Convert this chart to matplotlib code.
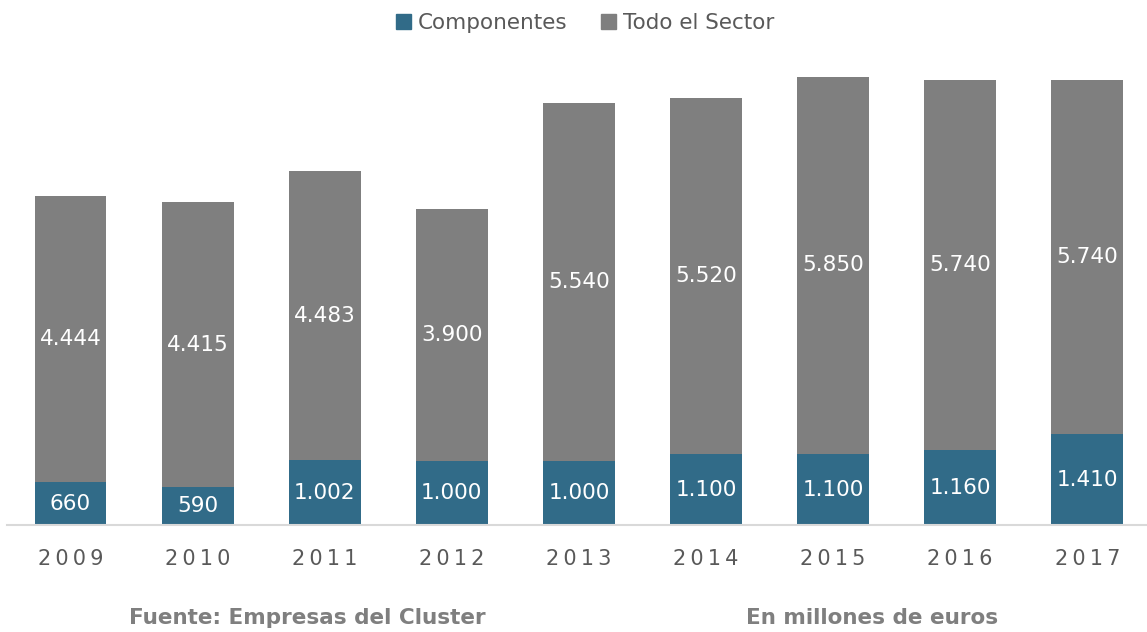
import matplotlib
matplotlib.use("Agg")
import matplotlib.pyplot as plt
from matplotlib.patches import Patch

years = ["2009", "2010", "2011", "2012", "2013", "2014", "2015", "2016", "2017"]
componentes = [660, 590, 1002, 1000, 1000, 1100, 1100, 1160, 1410]
# altura dibujada del tramo gris (2017 se ve más bajo que su etiqueta)
todo_sector = [4444, 4415, 4483, 3900, 5540, 5520, 5850, 5740, 5490]
etiquetas_comp = ["660", "590", "1.002", "1.000", "1.000", "1.100", "1.100", "1.160", "1.410"]
etiquetas_sector = ["4.444", "4.415", "4.483", "3.900", "5.540", "5.520", "5.850", "5.740", "5.740"]

azul = "#316B88"
gris = "#7F7F7F"
texto = "#595959"

plt.rcParams['font.family'] = ['DejaVu Sans']

fig = plt.figure(figsize=(11.47, 6.32), dpi=100)
ax = fig.add_axes([7 / 1147, 107 / 632, 1140 / 1147, 451.5 / 632])

x = list(range(len(years)))
w = 0.565
ax.bar(x, componentes, width=w, color=azul, label="Componentes")
ax.bar(x, todo_sector, width=w, bottom=componentes, color=gris, label="Todo el Sector")

for i in x:
    ax.text(i, componentes[i] / 2, etiquetas_comp[i], ha='center', va='center',
            color='white', fontsize=15.5)
    ax.text(i, componentes[i] + todo_sector[i] / 2, etiquetas_sector[i], ha='center',
            va='center', color='white', fontsize=15.5)

ax.set_xlim(-0.5, 8.47)
ax.set_ylim(0, 7000)
ax.set_yticks([])
ax.set_xticks(x)
ax.set_xticklabels(["\u2009".join(y) for y in years], color=texto, fontsize=15)
ax.tick_params(axis='x', length=0, pad=17)
for s in ['top', 'right', 'left']:
    ax.spines[s].set_visible(False)
ax.spines['bottom'].set_color('#D9D9D9')
ax.spines['bottom'].set_linewidth(1.5)

handles = [Patch(color=azul, label="Componentes"), Patch(color=gris, label="Todo el Sector")]
fig.legend(handles=handles, loc='center', bbox_to_anchor=(585 / 1147, 1 - 23 / 632), ncol=2,
           frameon=False, fontsize=15.5, labelcolor=texto, handlelength=0.7, handleheight=0.7,
           handletextpad=0.3, columnspacing=1.6)

fig.text(307 / 1147, 1 - 618 / 632, "Fuente: Empresas del Cluster", ha='center', va='center',
         color=gris, fontsize=15.5, fontweight='bold')
fig.text(872 / 1147, 1 - 618 / 632, "En millones de euros", ha='center', va='center',
         color=gris, fontsize=15.5, fontweight='bold')

fig.savefig("out.png", dpi=100)
